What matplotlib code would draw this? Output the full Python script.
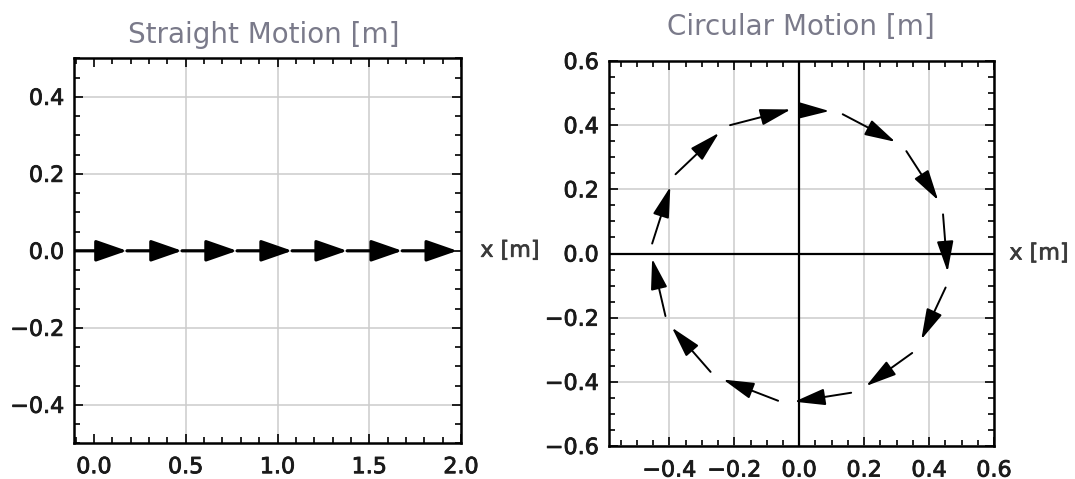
import matplotlib
matplotlib.use("Agg")
import matplotlib.pyplot as plt
import matplotlib.patheffects as pe
from matplotlib.patches import FancyArrowPatch
from matplotlib.ticker import MultipleLocator, FixedLocator, FuncFormatter

# ---- data ----
# Straight motion: arrow tails / heads along x (y = 0)
line_tail_x = [-0.12, 0.18, 0.48, 0.78, 1.08, 1.38, 1.68]
line_head_x = [0.18, 0.48, 0.78, 1.08, 1.38, 1.68, 1.98]
line_y = [0.0, 0.0, 0.0, 0.0, 0.0, 0.0, 0.0]

# Circular motion: arrow tails / heads
circ_tail_x = [0.000, 0.134, 0.330, 0.443, 0.451, 0.348, 0.160, -0.065, -0.273, -0.412, -0.453, -0.381, -0.213]
circ_tail_y = [0.446, 0.434, 0.319, 0.122, -0.106, -0.310, -0.434, -0.459, -0.369, -0.195, 0.031, 0.247, 0.400]
circ_head_x = [0.093, 0.296, 0.428, 0.457, 0.376, 0.206, -0.015, -0.234, -0.392, -0.453, -0.397, -0.247, -0.026]
circ_head_y = [0.444, 0.348, 0.166, -0.057, -0.268, -0.413, -0.462, -0.393, -0.231, -0.016, 0.208, 0.376, 0.449]

left_xticks = [0.0, 0.5, 1.0, 1.5, 2.0]
left_yticks = [-0.4, -0.2, 0.0, 0.2, 0.4]
right_xticks = [-0.4, -0.2, 0.0, 0.2, 0.4, 0.6]
right_yticks = [-0.6, -0.4, -0.2, 0.0, 0.2, 0.4, 0.6]

title_left = "Straight Motion [m]"
title_right = "Circular Motion [m]"
xlabel_text = "x [m]"

# ---- style ----
plt.rcParams['font.family'] = ['DejaVu Sans']
W, H = 1075, 479
fig = plt.figure(figsize=(W / 100, H / 100), dpi=100)

TICK_COLOR = '#1a1a1a'
TITLE_COLOR = '#7a7a8a'
GRID_COLOR = '#cccccc'
BOLDISH = [pe.withStroke(linewidth=0.6, foreground=TICK_COLOR)]


def fmt(v, p):
    return f"{v:.1f}".replace('-', '\u2212')


def style_axes(ax, xmajor, ymajor, xminor, yminor, xpad, ypad):
    ax.xaxis.set_major_locator(FixedLocator(xmajor))
    ax.yaxis.set_major_locator(FixedLocator(ymajor))
    ax.xaxis.set_minor_locator(MultipleLocator(xminor))
    ax.yaxis.set_minor_locator(MultipleLocator(yminor))
    ax.tick_params(which='both', direction='in', top=True, right=True,
                   color='black', width=1.2)
    ax.tick_params(which='major', length=6.5)
    ax.tick_params(which='minor', length=4)
    ax.tick_params(axis='x', which='major', labelsize=16, labelcolor=TICK_COLOR, pad=xpad)
    ax.tick_params(axis='y', which='major', labelsize=16, labelcolor=TICK_COLOR, pad=ypad)
    ax.xaxis.set_major_formatter(FuncFormatter(fmt))
    ax.yaxis.set_major_formatter(FuncFormatter(fmt))
    for lab in ax.get_xticklabels() + ax.get_yticklabels():
        lab.set_path_effects(BOLDISH)
    for s in ax.spines.values():
        s.set_linewidth(1.8)
        s.set_color('black')
    ax.grid(True, which='major', color=GRID_COLOR, linewidth=1.1)
    ax.set_axisbelow(True)


# Left panel
axL = fig.add_axes([74 / W, 1 - 443.3 / H, 387 / W, 385 / H])
axL.set_xlim(-0.109, 2.0)
axL.set_ylim(-0.5, 0.5)
style_axes(axL, left_xticks, left_yticks, 0.1, 0.05, 10, 7)
# no grid line at x = 0
for t, gl in zip(left_xticks, axL.xaxis.get_gridlines()):
    if t == 0.0:
        gl.set_visible(False)

for x0, x1, y in zip(line_tail_x, line_head_x, line_y):
    arr = FancyArrowPatch((x0, y), (x1, y),
                          arrowstyle='-|>,head_length=0.95,head_width=0.33',
                          mutation_scale=20, shrinkA=0, shrinkB=0,
                          color='black', linewidth=2.3, zorder=3)
    axL.add_patch(arr)

axL.text(1.05, 0.0, xlabel_text, transform=axL.get_yaxis_transform(),
         ha='left', va='center', fontsize=16, color='#3a3a3a',
         path_effects=[pe.withStroke(linewidth=0.5, foreground='#3a3a3a')])

# Right panel
axR = fig.add_axes([609.3 / W, 1 - 446 / H, 384.7 / W, 385 / H])
axR.set_xlim(-0.585, 0.6)
axR.set_ylim(-0.6, 0.6)
style_axes(axR, right_xticks, right_yticks, 0.05, 0.05, 10.5, 7.5)
axR.axhline(0, color='black', linewidth=1.6, zorder=2)
axR.axvline(0, color='black', linewidth=1.6, zorder=2)

for x0, y0, x1, y1 in zip(circ_tail_x, circ_tail_y, circ_head_x, circ_head_y):
    arr = FancyArrowPatch((x0, y0), (x1, y1),
                          arrowstyle='-|>,head_length=1.0,head_width=0.27',
                          mutation_scale=19, shrinkA=0, shrinkB=0,
                          color='black', linewidth=1.4, zorder=3)
    axR.add_patch(arr)

axR.text(1.04, 0.0, xlabel_text, transform=axR.get_yaxis_transform(),
         ha='left', va='center', fontsize=16, color='#3a3a3a',
         path_effects=[pe.withStroke(linewidth=0.5, foreground='#3a3a3a')])

# Titles
fig.text(264 / W, 1 - 43.3 / H, title_left, ha='center', va='baseline',
         fontsize=20, color=TITLE_COLOR)
fig.text(801 / W, 1 - 35 / H, title_right, ha='center', va='baseline',
         fontsize=20, color=TITLE_COLOR)

fig.savefig('out.png', dpi=100, facecolor='white')
